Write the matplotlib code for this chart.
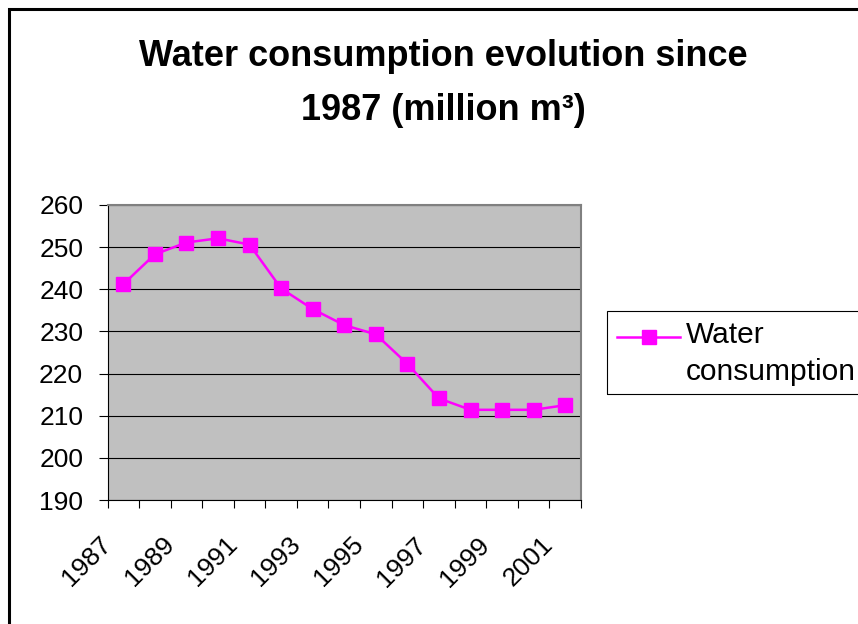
import matplotlib
matplotlib.use("Agg")
import matplotlib.pyplot as plt
import matplotlib.transforms as mtransforms
from matplotlib.patches import Rectangle
from matplotlib.lines import Line2D

plt.rcParams['font.family'] = ['Liberation Sans', 'DejaVu Sans']

# Data
years = [1987, 1988, 1989, 1990, 1991, 1992, 1993, 1994,
         1995, 1996, 1997, 1998, 1999, 2000, 2001]
consumption = [241.2, 248.3, 251.1, 252.1, 250.6, 240.2, 235.3, 231.5,
               229.3, 222.3, 214.1, 211.4, 211.4, 211.4, 212.5]
y_ticks = [190, 200, 210, 220, 230, 240, 250, 260]
legend_lines = ["Water", "consumption"]

magenta = "#FF00FF"
W, H = 858, 624

fig = plt.figure(figsize=(W / 100, H / 100), dpi=100)
ax = fig.add_axes([107.5 / W, 1 - 500 / H, (581 - 107.5) / W, (500 - 205) / H])
ax.set_facecolor("#C0C0C0")

x = list(range(len(years)))
ax.plot(x, consumption, color=magenta, linewidth=1.8, marker="s",
        markersize=9.5, markerfacecolor=magenta, markeredgecolor=magenta,
        zorder=3)

ax.set_xlim(-0.5, len(years) - 0.5)
ax.set_ylim(y_ticks[0], y_ticks[-1])
ax.set_yticks(y_ticks)
ax.yaxis.grid(True, color="black", linewidth=0.8)
ax.set_axisbelow(True)
ax.tick_params(axis="y", direction="out", length=6.5, width=0.8,
               pad=11, labelsize=19)

# ticks between categories, labels every other year
ax.set_xticks([i - 0.5 for i in range(len(years) + 1)])
ax.set_xticklabels([])
ax.tick_params(axis="x", direction="out", length=6, width=0.8)

lab_tr = mtransforms.blended_transform_factory(ax.transData, ax.transAxes) + \
    mtransforms.ScaledTranslation(-16 / 100, -41 / 100, fig.dpi_scale_trans)
for i, yr in enumerate(years):
    if i % 2 == 0:
        ax.text(i, 0, str(yr), transform=lab_tr, rotation=45,
                rotation_mode="anchor", ha="right", va="center", fontsize=19)

for side in ["top", "right"]:
    ax.spines[side].set_color("#808080")
    ax.spines[side].set_linewidth(1.5)
for side in ["left", "bottom"]:
    ax.spines[side].set_color("black")
    ax.spines[side].set_linewidth(0.8)

# title
fig.text(443 / W, 1 - 66 / H, "Water consumption evolution since",
         ha="center", va="baseline", fontsize=26, fontweight="bold")
fig.text(443 / W, 1 - 120 / H, "1987 (million m³)",
         ha="center", va="baseline", fontsize=26, fontweight="bold")

# legend box
fig.patches.append(Rectangle((607 / W, 1 - 394 / H), 300 / W, 83 / H,
                             transform=fig.transFigure, fill=False,
                             edgecolor="black", linewidth=0.8))
handle = Line2D([617 / W, 648.5 / W, 680 / W], [1 - 337 / H] * 3,
                transform=fig.transFigure, color=magenta, linewidth=1.8,
                marker="s", markersize=9.5, markevery=[1],
                markerfacecolor=magenta, markeredgecolor=magenta)
fig.lines.append(handle)
for k, line in enumerate(legend_lines):
    fig.text(686 / W, 1 - (343 + 37 * k) / H, line, ha="left",
             va="baseline", fontsize=21.5)

# outer chart border
fig.patches.append(Rectangle((8.5 / W, -0.1), 2, 1 - 8.5 / H + 0.1,
                             transform=fig.transFigure, fill=False,
                             edgecolor="black", linewidth=2.2))

fig.savefig("out.png", dpi=100)
